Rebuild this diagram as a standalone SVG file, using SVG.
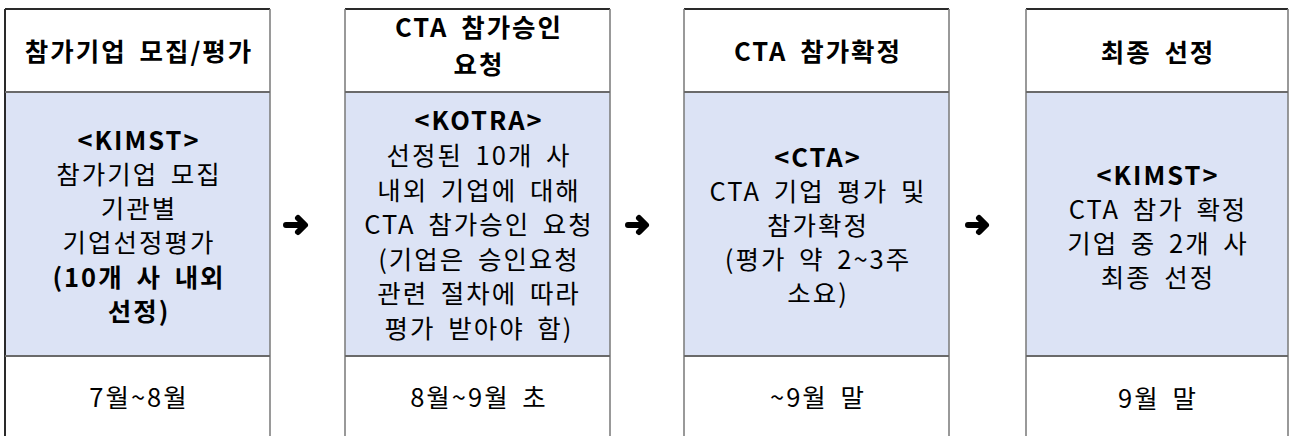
<svg xmlns="http://www.w3.org/2000/svg" width="1290" height="436" viewBox="0 0 1290 436">
<style>
text{font-family:"Noto Sans CJK KR","Noto Sans",sans-serif;font-size:25.5px;fill:#000;text-anchor:middle;letter-spacing:2px;word-spacing:5px}
.b{font-weight:bold}
.bd{fill:#dce3f5}
.v{stroke:#808080;stroke-width:1.6;fill:none}
.h{stroke:#6a6a6a;stroke-width:2;fill:none}
.t{stroke:#2a2a2a;stroke-width:2;fill:none}
.arr{stroke:#000;stroke-width:6;stroke-linecap:round;stroke-linejoin:round;fill:none}
</style>
<rect width="1290" height="436" fill="#fff"/>
<g id="col1">
<rect class="bd" x="5" y="92" width="265" height="264"/>
<path class="t" d="M5,9 H270 M5,9 V436"/>
<path class="v" d="M270,9 V436"/>
<path class="h" d="M5,92 H270 M5,356 H270"/>
<text class="b" x="139" y="61">참가기업 모집/평가</text>
<text class="b" x="139" y="150">&lt;KIMST&gt;</text>
<text x="139" y="184">참가기업 모집</text>
<text x="139" y="218">기관별</text>
<text x="139" y="252">기업선정평가</text>
<text class="b" x="139" y="287">(10개 사 내외</text>
<text class="b" x="139" y="321">선정)</text>
<text x="139" y="407">7월~8월</text>
</g>
<g id="col2">
<rect class="bd" x="345" y="92" width="265" height="264"/>
<path class="t" d="M345,9 H610"/>
<path class="v" d="M345,9 V436 M610,9 V436"/>
<path class="h" d="M345,92 H610 M345,356 H610"/>
<text class="b" x="479" y="37">CTA 참가승인</text>
<text class="b" x="479" y="74">요청</text>
<text class="b" x="479" y="130">&lt;KOTRA&gt;</text>
<text x="479" y="165">선정된 10개 사</text>
<text x="479" y="200">내외 기업에 대해</text>
<text x="479" y="234">CTA 참가승인 요청</text>
<text x="479" y="269">(기업은 승인요청</text>
<text x="479" y="303">관련 절차에 따라</text>
<text x="479" y="338">평가 받아야 함)</text>
<text x="479" y="407">8월~9월 초</text>
</g>
<g id="col3">
<rect class="bd" x="684" y="92" width="265" height="264"/>
<path class="t" d="M684,9 H949"/>
<path class="v" d="M684,9 V436 M949,9 V436"/>
<path class="h" d="M684,92 H949 M684,356 H949"/>
<text class="b" x="818" y="61">CTA 참가확정</text>
<text class="b" x="818" y="167">&lt;CTA&gt;</text>
<text x="818" y="201">CTA 기업 평가 및</text>
<text x="818" y="235">참가확정</text>
<text x="818" y="269">(평가 약 2~3주</text>
<text x="818" y="303">소요)</text>
<text x="818" y="407">~9월 말</text>
</g>
<g id="col4">
<rect class="bd" x="1026" y="92" width="262" height="264"/>
<path class="t" d="M1026,9 H1288"/>
<path class="v" d="M1026,9 V436 M1288,9 V436"/>
<path class="h" d="M1026,92 H1288 M1026,356 H1288"/>
<text class="b" x="1158" y="62">최종 선정</text>
<text class="b" x="1158" y="185">&lt;KIMST&gt;</text>
<text x="1158" y="219">CTA 참가 확정</text>
<text x="1158" y="253">기업 중 2개 사</text>
<text x="1158" y="287">최종 선정</text>
<text x="1158" y="408">9월 말</text>
</g>
<g id="connectors">
<path class="arr" d="M286,225 H304 M298,218 L305,225 L298,232"/>
<path class="arr" d="M628,225 H645 M639,218 L646,225 L639,232"/>
<path class="arr" d="M968,225 H985 M979,218 L986,225 L979,232"/>
</g>
</svg>
